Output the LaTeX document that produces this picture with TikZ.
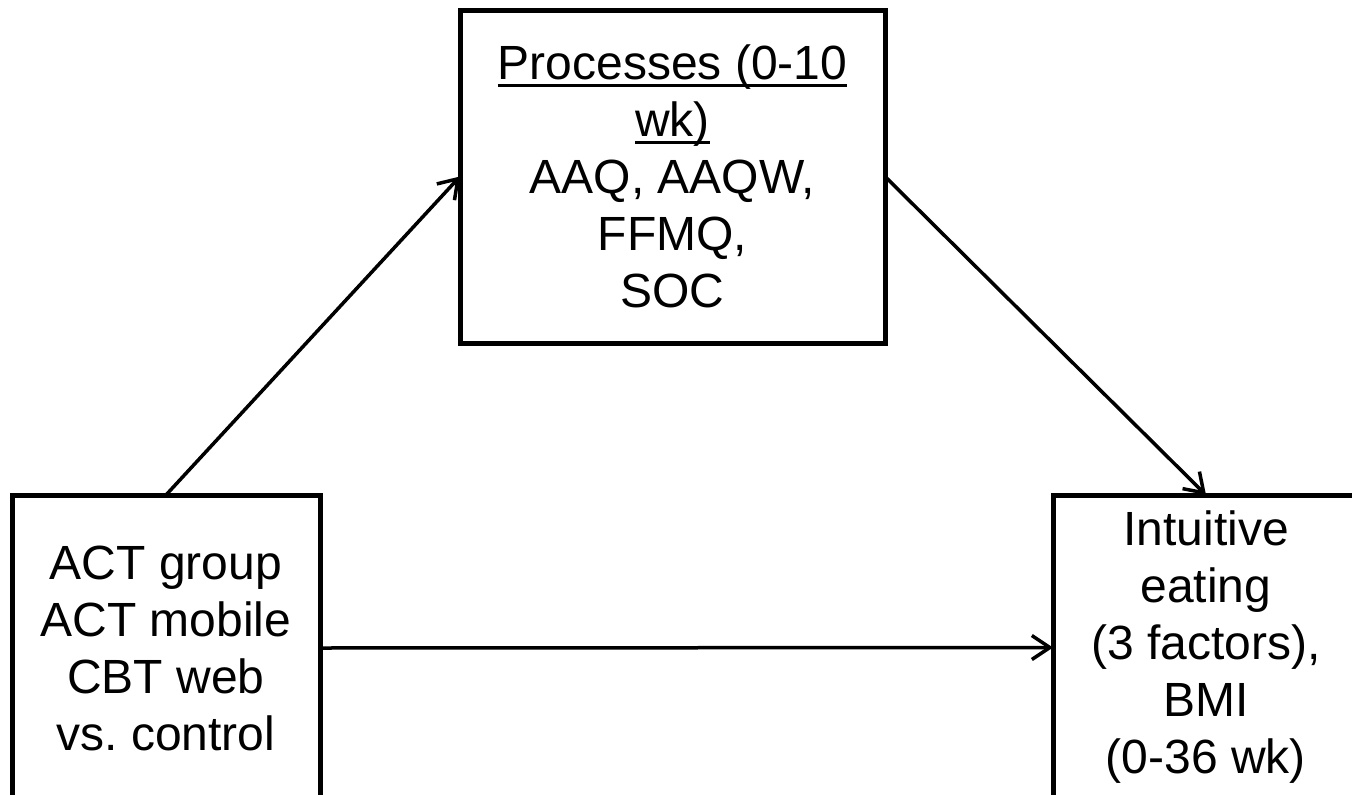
\documentclass[tikz,border=0pt]{standalone}
\usepackage{fontspec}
\setmainfont{Liberation Sans}
\usetikzlibrary{arrows.meta}
\newcommand\myul[1]{\setbox0\hbox{#1}\rlap{\rule[-7pt]{\wd0}{2.6pt}}\box0}
\tikzset{
  box/.style={draw=black, line width=5pt, fill=white, align=center, inner sep=0pt, outer sep=0pt,
    font=\fontsize{48}{57}\selectfont},
  conn/.style={line width=3.5pt, -{Straight Barb[length=18pt,width=24pt,line width=3.5pt]}}
}
\begin{document}
\begin{tikzpicture}[x=1pt,y=-1pt]
\clip (0,0) rectangle (1352,795);
\fill[white] (0,0) rectangle (1352,795);
\node[box, minimum width=425pt, minimum height=333pt] (proc) at (672.5,176.5)
  {\myul{Processes (0-10}\\\myul{wk)}\\AAQ, AAQW,\\FFMQ,\\SOC};
\node[box, minimum width=308pt, minimum height=306pt] (act) at (166,648)
  {ACT group\\ACT mobile\\CBT web\\vs.\ control};
\node[box, minimum width=306pt, minimum height=305pt] (ie) at (1206,647.5)
  {Intuitive\\eating\\(3 factors),\\BMI\\(0-36 wk)};
\draw[conn] (act.north) -- (proc.west);
\draw[conn] (proc.east) -- (ie.north);
\draw[conn] (act.east) -- (ie.west);
\end{tikzpicture}
\end{document}
